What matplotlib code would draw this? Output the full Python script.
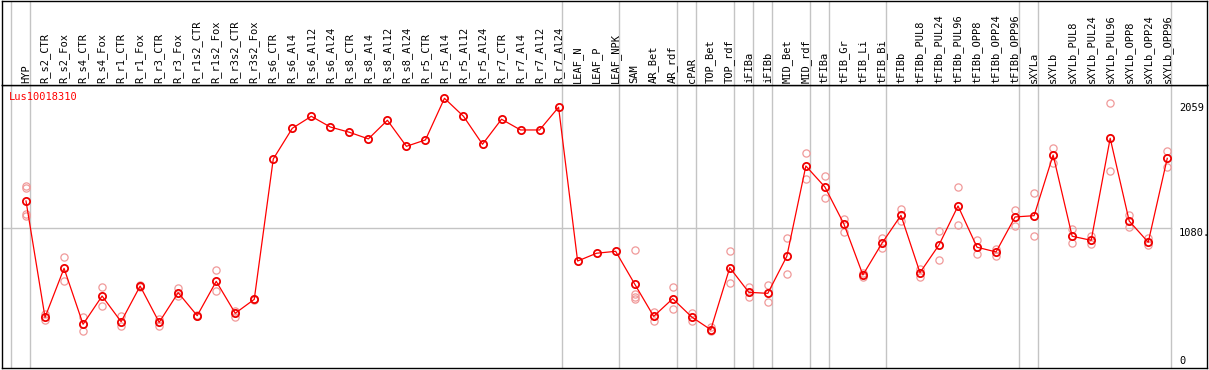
import matplotlib
matplotlib.use('Agg')
import matplotlib.pyplot as plt
from matplotlib.transforms import blended_transform_factory

categories = ['HYP', 'R_s2_CTR', 'R_s2_Fox', 'R_s4_CTR', 'R_s4_Fox', 'R_r1_CTR', 'R_r1_Fox',
              'R_r3_CTR', 'R_r3_Fox', 'R_r1s2_CTR', 'R_r1s2_Fox', 'R_r3s2_CTR', 'R_r3s2_Fox',
              'R_s6_CTR', 'R_s6_Al4', 'R_s6_Al12', 'R_s6_Al24', 'R_s8_CTR', 'R_s8_Al4',
              'R_s8_Al12', 'R_s8_Al24', 'R_r5_CTR', 'R_r5_Al4', 'R_r5_Al12', 'R_r5_Al24',
              'R_r7_CTR', 'R_r7_Al4', 'R_r7_Al12', 'R_r7_Al24', 'LEAF_N', 'LEAF_P', 'LEAF_NPK',
              'SAM', 'AR_Bet', 'AR_rdf', 'cPAR', 'TOP_Bet', 'TOP_rdf', 'iFIBa', 'iFIBb',
              'MID_Bet', 'MID_rdf', 'tFIBa', 'tFIB_Gr', 'tFIB_Li', 'tFIB_Bi', 'tFIBb',
              'tFIBb_PUL8', 'tFIBb_PUL24', 'tFIBb_PUL96', 'tFIBb_OPP8', 'tFIBb_OPP24',
              'tFIBb_OPP96', 'sXYLa', 'sXYLb', 'sXYLb_PUL8', 'sXYLb_PUL24', 'sXYLb_PUL96',
              'sXYLb_OPP8', 'sXYLb_OPP24', 'sXYLb_OPP96']

means = [1289, 378, 762, 324, 545, 344, 623, 339, 571, 391, 660, 410, 519,
         1618, 1858, 1952, 1868, 1827, 1775, 1921, 1717, 1767, 2093, 1952, 1733,
         1929, 1845, 1845, 2023, 819, 880, 895,
         639, 386, 524, 381, 281, 767, 574, 566, 856, 1563, 1399, 1109, 710, 958,
         1177, 728, 945, 1250, 927, 890, 1164, 1174, 1649, 1013, 981, 1780, 1132,
         966, 1623]

replicates = [
    [1407, 1391, 1188, 1172], [404, 357], [853, 663], [383, 274], [613, 467],
    [391, 313], [630, 616], [367, 313], [610, 548], [395, 387], [746, 582],
    [428, 383], [523, 515],
    [], [], [], [], [], [], [], [], [], [], [], [], [], [], [], [],
    [], [], [],
    [903, 561, 540, 522], [422, 352], [613, 443], [410, 352], [305, 274],
    [895, 649], [616, 537], [634, 501], [997, 715], [1667, 1459], [1485, 1310],
    [1146, 1049], [723, 692], [999, 923], [1226, 1135], [754, 692], [1052, 825],
    [1396, 1101], [984, 874], [916, 861], [1219, 1096], [1349, 1013],
    [1702, 1584], [1070, 958], [1017, 950], [2059, 1524], [1179, 1088],
    [997, 945], [1683, 1558]]

gene = 'Lus10018310'
ytick_values = [2059, 1080, 0]
ytick_labels = ['2059', '1080.', '0']
group_last = ['HYP', 'R_r7_Al24', 'LEAF_NPK', 'AR_rdf', 'cPAR', 'TOP_rdf', 'iFIBa',
              'iFIBb', 'MID_rdf', 'tFIBa', 'tFIB_Bi', 'tFIBb_OPP96', 'sXYLa', 'sXYLb_OPP96']

W, H = 1209, 370
fig = plt.figure(figsize=(W / 100, H / 100), dpi=100)


def px(x0, y0, x1, y1):
    return [x0 / W, 1 - y1 / H, (x1 - x0) / W, (y1 - y0) / H]


ax = fig.add_axes(px(2, 85, 1207, 368))
axl = fig.add_axes(px(2, 0.6, 1207, 85))

x = list(range(len(categories)))
xlim = (-1.262, 62.09)
ylim = (-18.5, 2197)
mono = 'DejaVu Sans Mono'
grey = '#c4c4c4'

for a in (ax, axl):
    a.set_xlim(*xlim)
    a.set_xticks([])
    a.set_yticks([])
    for s in a.spines.values():
        s.set_linewidth(1.0)
        s.set_color('black')
axl.set_ylim(0, 1)
ax.set_ylim(*ylim)

sep_pos = [-1 + 0.2] + [categories.index(n) + 0.2 for n in group_last]
for a in (ax, axl):
    for p in sep_pos:
        a.axvline(p, color=grey, lw=1.0, zorder=0)

ax.plot([xlim[0], sep_pos[-1]], [ytick_values[1], ytick_values[1]], color=grey, lw=1.0, zorder=0)

for i, reps in enumerate(replicates):
    if reps:
        ax.plot([i] * len(reps), reps, linestyle='none', marker='o', ms=5.2,
                mfc='none', mec='#f09a9a', mew=0.9, zorder=2)

ax.plot(x, means, color='#ff0000', lw=0.9, marker='o', ms=5.2, mfc='none',
        mec='#ee0000', mew=1.3, zorder=3)

for i, name in enumerate(categories):
    axl.text(i, 0.025, name, rotation=90, ha='center', va='bottom',
             family=mono, fontsize=7.5, color='black')

fig.text(9 / W, 1 - 97.5 / H, gene, color='#ff0000', ha='left', va='center',
         family=mono, fontsize=7.5)

xr = len(categories) - 1 + 0.62
for v, lab in zip(ytick_values, ytick_labels):
    va = 'bottom' if v == 0 else 'top'
    ax.text(xr, v, lab, ha='left', va=va, family=mono, fontsize=7.5, color='black')

fig.savefig('out.png', dpi=100)
